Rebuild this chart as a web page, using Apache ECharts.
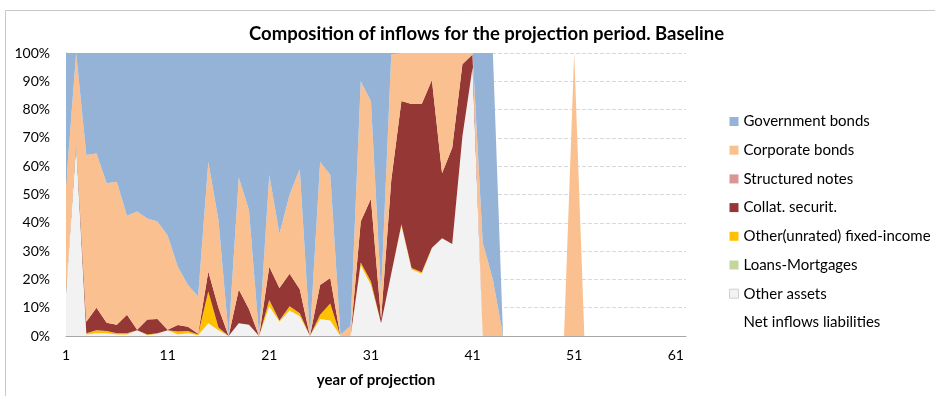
<!DOCTYPE html>
<html>
<head>
<meta charset="utf-8">
<script src="https://cdn.jsdelivr.net/npm/echarts@6/dist/echarts.min.js"></script>
<style>
html,body{margin:0;padding:0;background:#fff;}
#c{width:935px;height:396px;}
</style>
</head>
<body>
<div id="c"></div>
<script>
// Years of projection
const years = [];
for (let i = 1; i <= 62; i++) years.push(String(i));

// Cumulative tops (percent), years 1..62
const topOtherAssets = [15,66,0.5,1,1,0.5,0.5,2,0.3,0.8,2,0.5,1,0.3,4.5,2,0,4.5,4,0,10.5,5,9,7,0,6,5.5,0,0,25,18,4.5,22,39,23.5,22,31,34.5,32.5,70.5,95,0,0,0,0,0,0,0,0,0,0,0,0,0,0,0,0,0,0,0,0,0];
const topLoans =       [15,68,0.5,1,1,0.5,0.5,2,0.3,0.8,2,0.5,1,0.3,4.5,2,0,4.5,4,0,10.5,5,9,7,0,6,5.5,0,0,25,18,4.5,22,39,23.5,22,31,34.5,32.5,70.5,95,0,0,0,0,0,0,0,0,0,0,0,0,0,0,0,0,0,0,0,0,0];
const topUnrated =     [15,68,1,2,1.8,1,1,2,0.5,1,2,1.6,1.8,0.5,15.7,3,0,4.5,4,0,12.7,5.5,10.5,8,0,7.5,11.5,0,0,26,19.3,4.5,22,39.5,24,22.5,31.2,34.5,32.5,70.5,95,0,0,0,0,0,0,0,0,0,0,0,0,0,0,0,0,0,0,0,0,0];
const topStructured = topUnrated.slice();
const topCollat =      [15.5,69.5,5,10,4.7,4,7.5,2.2,5.8,6,2.2,3.9,3.3,0.8,22.8,10,0,16.4,9.5,0,24.5,17,22,16.5,0,18,20.5,0,0,40.5,48.5,6,55,83,82,82,90.5,57.5,66.5,96,99.5,0,0,0,0,0,0,0,0,0,0,0,0,0,0,0,0,0,0,0,0,0];
const topCorporate =   [53,100,64,64.5,54,54.5,42.5,44,41.5,40.5,35.5,24.5,18,14,61.5,41,0,56,44.5,0,57,36,50,59,0,61.5,57,0.5,3.5,90,83,15,99.5,100,100,100,100,100,100,100,100,33,20,0,0,0,0,0,0,0,100,0,0,0,0,0,0,0,0,0,0,0];
const topGovernment =  [100,100,100,100,100,100,100,100,100,100,100,100,100,100,100,100,100,100,100,100,100,100,100,100,100,100,100,100,100,100,100,100,100,100,100,100,100,100,100,100,100,100,100,0,0,0,0,0,0,0,0,0,0,0,0,0,0,0,0,0,0,0];

const diff = (a, b) => a.map((v, i) => +(v - (b ? b[i] : 0)).toFixed(2));
const otherAssets = diff(topOtherAssets);
const loans = diff(topLoans, topOtherAssets);
const unrated = diff(topUnrated, topLoans);
const structured = diff(topStructured, topUnrated);
const collat = diff(topCollat, topStructured);
const corporate = diff(topCorporate, topCollat);
const government = diff(topGovernment, topCorporate);

const FONT = 'Lato, "Liberation Sans", sans-serif';
const chart = echarts.init(document.getElementById('c'), null, {renderer: 'canvas'});

function area(name, color, data) {
  return {
    name: name, type: 'line', stack: 'total', data: data,
    symbol: 'none', showSymbol: false, smooth: false,
    lineStyle: {width: 0, color: color},
    itemStyle: {color: color},
    areaStyle: {color: color, opacity: 1},
    emphasis: {disabled: true}, silent: true, animation: false
  };
}

const option = {
  animation: false,
  backgroundColor: '#fff',
  title: {
    text: 'Composition of inflows for the projection period. Baseline',
    left: 244, top: 20,
    textStyle: {fontFamily: FONT, fontSize: 18.5, fontWeight: 'bold', color: '#000'}
  },
  graphic: [{
    type: 'rect', left: 3, top: 8, z: -10, silent: true,
    shape: {x: 0, y: 0, width: 1000, height: 1000},
    style: {fill: 'none', stroke: '#c8c8c8', lineWidth: 1}
  }],
  legend: {
    orient: 'vertical', left: 729, top: 113, padding: 0,
    itemWidth: 9, itemHeight: 9, itemGap: 11.7,
    textStyle: {fontFamily: FONT, fontSize: 15, color: '#000', lineHeight: 17},
    data: [
      {name: 'Government bonds', icon: 'rect'},
      {name: 'Corporate bonds', icon: 'rect'},
      {name: 'Structured notes', icon: 'rect'},
      {name: 'Collat. securit.', icon: 'rect'},
      {name: 'Other(unrated) fixed-income', icon: 'rect'},
      {name: 'Loans-Mortgages', icon: 'rect'},
      {name: 'Other assets', icon: 'rect', itemStyle: {color: '#f2f2f2', borderColor: '#d0d0d0', borderWidth: 1}},
      {name: 'Net inflows liabilities', icon: 'none'}
    ]
  },
  grid: {left: 66, right: 249, top: 53, bottom: 60, containLabel: false},
  xAxis: {
    type: 'category', data: years, boundaryGap: false,
    name: 'year of projection', nameLocation: 'middle', nameGap: 37,
    nameTextStyle: {fontFamily: FONT, fontSize: 15, fontWeight: 'bold', color: '#000'},
    axisLine: {lineStyle: {color: '#a6a6a6', width: 1}},
    axisTick: {show: false},
    axisLabel: {interval: 9, margin: 12, fontFamily: FONT, fontSize: 14, color: '#000'},
    splitLine: {show: false}
  },
  yAxis: {
    type: 'value', min: 0, max: 100, interval: 10,
    axisLine: {show: true, lineStyle: {color: '#a6a6a6', width: 1}},
    axisTick: {show: false},
    axisLabel: {margin: 16, fontFamily: FONT, fontSize: 14, color: '#000', formatter: '{value}%'},
    splitLine: {show: true, lineStyle: {color: '#d9d9d9', type: 'dashed', width: 1}}
  },
  series: [
    area('Other assets', '#f2f2f2', otherAssets),
    area('Loans-Mortgages', '#c3d69b', loans),
    area('Other(unrated) fixed-income', '#ffc000', unrated),
    area('Structured notes', '#d99694', structured),
    area('Collat. securit.', '#953735', collat),
    area('Corporate bonds', '#fac090', corporate),
    area('Government bonds', '#95b3d7', government),
    {name: 'Net inflows liabilities', type: 'line', data: [], symbol: 'none',
     lineStyle: {width: 0}, itemStyle: {color: 'transparent'}, silent: true}
  ]
};
chart.setOption(option);
</script>
</body>
</html>
